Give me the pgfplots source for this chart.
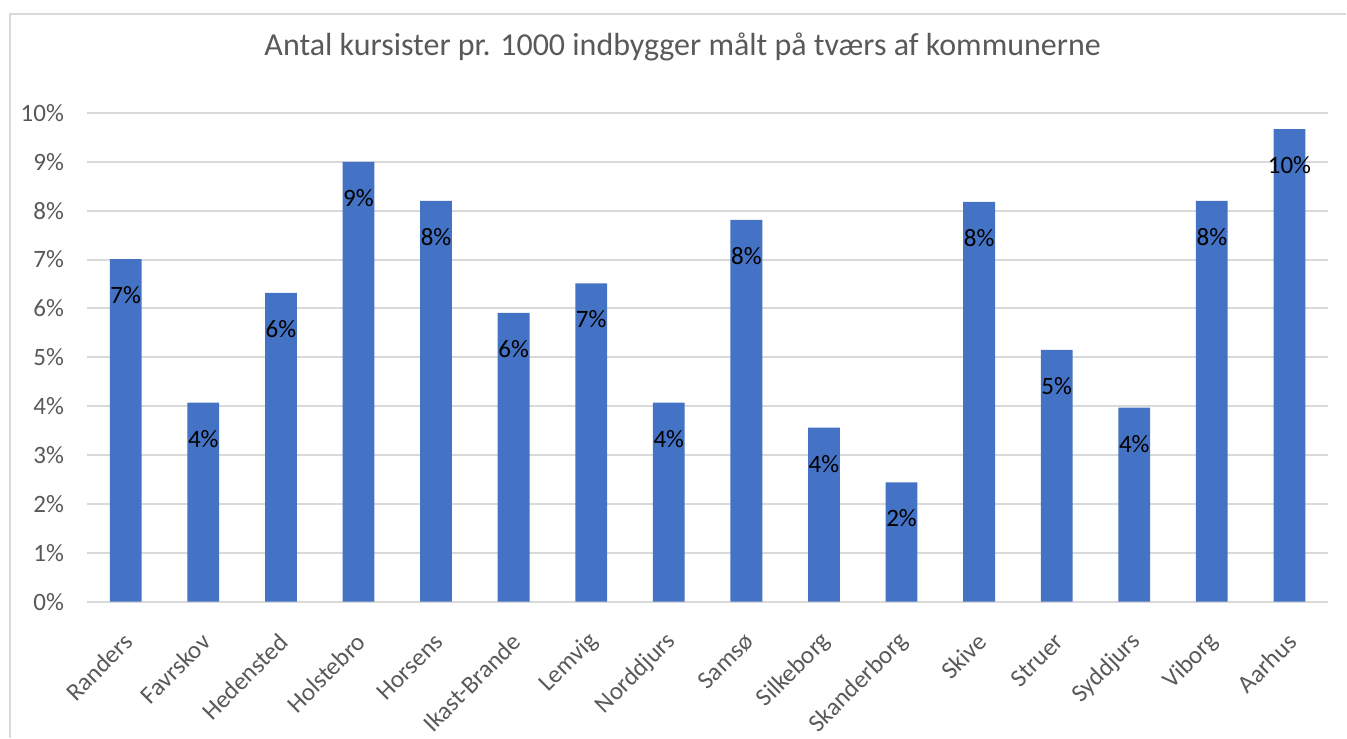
\documentclass[border=0pt]{standalone}
\usepackage{pgfplots}
\pgfplotsset{compat=1.18}
\usepackage{fontspec}
\setmainfont{Carlito}
\definecolor{barblue}{HTML}{4472C4}
\definecolor{txtgray}{HTML}{595959}
\definecolor{gridgray}{HTML}{D9D9D9}
\begin{document}
\begin{tikzpicture}
\begin{axis}[
  name=ax,
  scale only axis,
  width=621pt, height=244.5pt,
  xmin=-0.5, xmax=15.5,
  ymin=0, ymax=10,
  ytick={0,1,...,10},
  yticklabel={\pgfmathprintnumber{\tick}\%},
  /pgf/number format/assume math mode=true,
  xtick={0,...,15},
  xticklabels={Randers,Favrskov,Hedensted,Holstebro,Horsens,Ikast-Brande,Lemvig,Norddjurs,Samsø,Silkeborg,Skanderborg,Skive,Struer,Syddjurs,Viborg,Aarhus},
  xticklabel style={xshift=1.5pt, yshift=-18pt, anchor=east, rotate=45, font=\fontsize{12.5}{15}\selectfont, text=txtgray, inner sep=0pt},
  yticklabel style={font=\fontsize{12.5}{15}\selectfont, text=txtgray, xshift=-8pt},
  major tick length=0pt,
  ymajorgrids,
  grid style={gridgray, line width=1pt},
  axis x line*=bottom,
  axis y line*=left,
  y axis line style={draw=none},
  x axis line style={gridgray, line width=1pt, -},
  ybar, bar width=15.9pt,
  clip=false,
  nodes near coords={\pgfmathprintnumber[fixed,precision=0]{\pgfplotspointmeta}\%},
  every node near coord/.append style={anchor=center, yshift=-18pt, font=\fontsize{12.5}{15}\selectfont, text=black},
]
\addplot[fill=barblue, draw=none] coordinates {
(0,7.01) (1,4.07) (2,6.32) (3,9.00) (4,8.20) (5,5.91) (6,6.51) (7,4.07)
(8,7.81) (9,3.56) (10,2.44) (11,8.18) (12,5.15) (13,3.97) (14,8.20) (15,9.67)
};
\end{axis}
\node[font=\fontsize{16}{19}\selectfont, text=txtgray] at ([xshift=298pt,yshift=277.5pt]ax.south west) {Antal kursister pr. 1000 indbygger målt på tværs af kommunerne};
\pgfresetboundingbox
\path ([xshift=-43.5pt,yshift=-68pt]ax.south west) rectangle ([xshift=630pt,yshift=301pt]ax.south west);
\draw[gridgray, line width=0.8pt] ([xshift=-38.5pt,yshift=-68pt]ax.south west) -- ([xshift=-38.5pt,yshift=294pt]ax.south west) -- ([xshift=630pt,yshift=294pt]ax.south west);
\end{tikzpicture}
\end{document}
